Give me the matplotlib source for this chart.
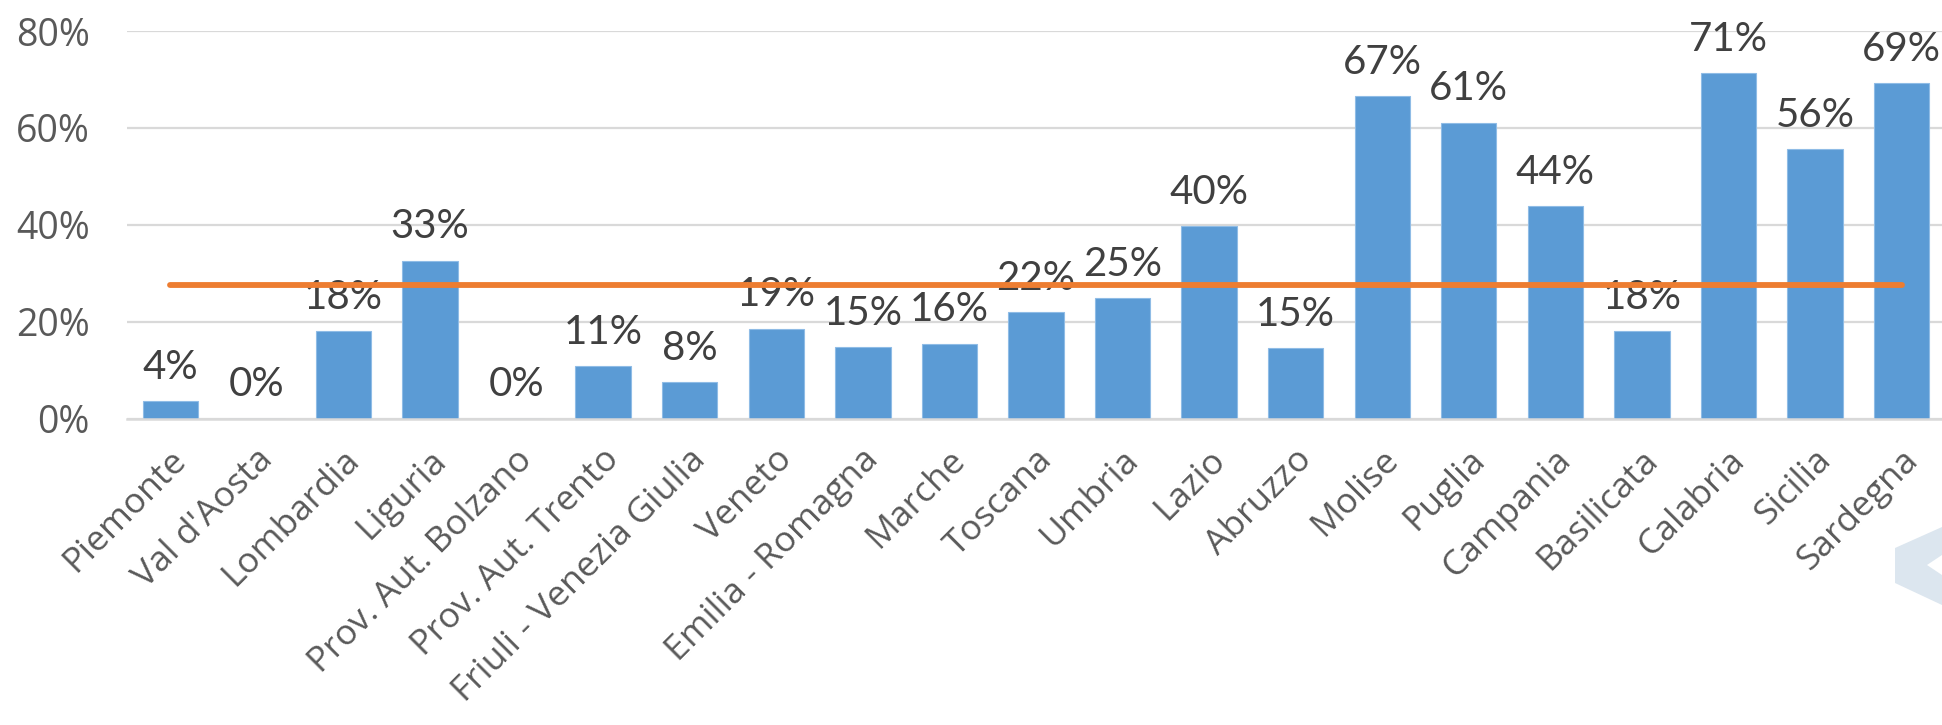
import matplotlib
matplotlib.use("Agg")
import matplotlib.pyplot as plt
import matplotlib.transforms as mtransforms
from matplotlib.patches import Polygon
import numpy as np

# data
regioni = ["Piemonte", "Val d'Aosta", "Lombardia", "Liguria", "Prov. Aut. Bolzano",
           "Prov. Aut. Trento", "Friuli - Venezia Giulia", "Veneto", "Emilia - Romagna",
           "Marche", "Toscana", "Umbria", "Lazio", "Abruzzo", "Molise", "Puglia",
           "Campania", "Basilicata", "Calabria", "Sicilia", "Sardegna"]
valori = [0.036, 0.0, 0.181, 0.326, 0.0, 0.109, 0.076, 0.186, 0.148, 0.155, 0.220,
          0.249, 0.397, 0.146, 0.666, 0.611, 0.439, 0.180, 0.713, 0.557, 0.693]
media = 0.275
yticks = [0.0, 0.2, 0.4, 0.6, 0.8]

bar_color = "#5b9bd5"
line_color = "#ed7d31"

fig = plt.figure(figsize=(19.42, 7.25), dpi=100)
ax = fig.add_axes([0.0654, 0.4225, 0.9361, 0.5347])

x = np.arange(len(regioni))
ax.bar(x, valori, width=0.64, color=bar_color, edgecolor="#8fbce6", linewidth=0.8, zorder=2)
ax.plot(x, [media] * len(x), color=line_color, linewidth=4.2, solid_capstyle="round", zorder=4)

# data labels
for xi, v in zip(x, valori):
    ax.annotate(f"{v:.0%}", (xi, v), xytext=(0, 16), textcoords="offset points",
                ha="center", va="baseline", fontsize=29, color="#404040",
                family="Lato", zorder=3)

ax.set_xlim(-0.5, len(regioni) - 0.5)
ax.set_ylim(0, 0.8)
ax.set_yticks(yticks)
ax.set_yticklabels([f"{t:.0%}" for t in yticks], family="Open Sans", fontsize=27, color="#595959")
ax.set_xticks(x)
ax.set_xticklabels(regioni, rotation=45, ha="right", va="center", rotation_mode="anchor",
                   family="Open Sans", fontsize=25.5, color="#595959")
ax.tick_params(axis="y", length=0, pad=27)
ax.tick_params(axis="x", length=0, pad=26)

# nudge rotated labels a bit to the right, like the original
shift = mtransforms.ScaledTranslation(0.11, 0, fig.dpi_scale_trans)
for lab in ax.get_xticklabels():
    lab.set_transform(lab.get_transform() + shift)

ax.grid(axis="y", color="#d9d9d9", linewidth=1.6, zorder=0)
ax.set_axisbelow(True)
for s in ["top", "right", "left"]:
    ax.spines[s].set_visible(False)
ax.spines["bottom"].set_color("#d9d9d9")
ax.spines["bottom"].set_linewidth(1.8)

# faint watermark piece at right edge
W, H = 1942, 725
pts = [(1895, 548), (1942, 527), (1942, 555), (1927, 565), (1942, 575), (1942, 605), (1895, 583)]
fig.patches.append(Polygon([(px / W, 1 - py / H) for px, py in pts], closed=True,
                           transform=fig.transFigure, facecolor="#dce6ef", edgecolor="none",
                           zorder=0))

fig.savefig("out.png", dpi=100)
